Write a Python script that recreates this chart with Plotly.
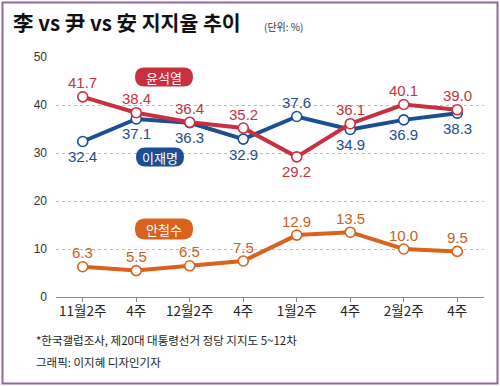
import plotly.graph_objects as go

weeks = ["11월2주", "4주", "12월2주", "4주", "1월2주", "4주", "2월2주", "4주"]
yoon = [41.7, 38.4, 36.4, 35.2, 29.2, 36.1, 40.1, 39.0]
lee = [32.4, 37.1, 36.3, 32.9, 37.6, 34.9, 36.9, 38.3]
ahn = [6.3, 5.5, 6.5, 7.5, 12.9, 13.5, 10.0, 9.5]
yoon_pos = ["above", "above", "above", "above", "below", "above", "above", "above"]
lee_pos = ["below", "below", "below", "below", "above", "below", "below", "below"]
ahn_pos = ["above"] * 8
y_ticks = [0, 10, 20, 30, 40, 50]

RED = "#c9303f"
BLUE = "#1b4e95"
ORANGE = "#d9621c"

W, H = 500, 386
L, R, T, B = 56, 16, 57, 89
PW, PH = W - L - R, H - T - B

def px(xp):
    return (xp - L) / PW

def py(yp):
    return (H - B - yp) / PH

NUM_FONT = "Liberation Sans, Arial"
KR_FONT = "Noto Sans CJK KR, Noto Sans, sans-serif"

x = list(range(len(weeks)))
fig = go.Figure()

series = [
    (lee, lee_pos, BLUE, "#1e4d8c"),
    (yoon, yoon_pos, RED, "#c23440"),
    (ahn, ahn_pos, ORANGE, "#c8601f"),
]
annotations = []
for vals, pos, col, tcol in series:
    fig.add_trace(go.Scatter(
        x=x, y=vals, mode="lines+markers",
        line=dict(color=col, width=4),
        marker=dict(size=10, color="white", line=dict(color=col, width=1.6)),
        hoverinfo="skip", showlegend=False, cliponaxis=False,
    ))
    for xi, v, p in zip(x, vals, pos):
        annotations.append(dict(
            x=xi, y=v, xref="x", yref="y", text=f"{v:.1f}", showarrow=False,
            yshift=14 if p == "above" else -15,
            font=dict(family=NUM_FONT, size=15, color=tcol),
        ))

# Pills (series names)
shapes = []
def pill(cx, cy, w, h, color, text):
    r = h / 2
    x0, x1 = cx - w / 2, cx + w / 2
    y0, y1 = cy - h / 2, cy + h / 2
    P = lambda a, b: f"{px(a):.5f},{py(b):.5f}"
    path = (f"M {P(x0 + r, y0)} L {P(x1 - r, y0)} Q {P(x1, y0)} {P(x1, cy)} "
            f"Q {P(x1, y1)} {P(x1 - r, y1)} L {P(x0 + r, y1)} Q {P(x0, y1)} {P(x0, cy)} "
            f"Q {P(x0, y0)} {P(x0 + r, y0)} Z")
    shapes.append(dict(type="path", path=path, xref="paper", yref="paper",
                       fillcolor=color, line=dict(width=0), layer="above"))
    annotations.append(dict(x=px(cx), y=py(cy), xref="paper", yref="paper", text=text,
                            showarrow=False, font=dict(family=KR_FONT, size=13, color="white"),
                            xanchor="center", yanchor="middle"))

pill(164, 77, 58, 19, RED, "윤석열")
pill(160, 157, 48, 19, BLUE, "이재명")
pill(164, 229, 58, 21, ORANGE, "안철수")

# Title & notes
annotations += [
    dict(x=px(11), y=py(22), xref="paper", yref="paper", text="<b>李 vs 尹 vs 安 지지율 추이</b>",
         showarrow=False, xanchor="left", yanchor="middle",
         font=dict(family=KR_FONT, size=20.5, color="#111")),
    dict(x=px(262), y=py(26), xref="paper", yref="paper", text="(단위: %)",
         showarrow=False, xanchor="left", yanchor="middle",
         font=dict(family=KR_FONT, size=10, color="#333")),
    dict(x=px(34), y=py(340), xref="paper", yref="paper",
         text="*한국갤럽조사, 제20대 대통령선거 정당 지지도 5~12차",
         showarrow=False, xanchor="left", yanchor="middle",
         font=dict(family=KR_FONT, size=11.5, color="#222")),
    dict(x=px(34), y=py(362), xref="paper", yref="paper",
         text="그래픽: 이지혜 디자인기자",
         showarrow=False, xanchor="left", yanchor="middle",
         font=dict(family=KR_FONT, size=11.5, color="#222")),
]

# Border
shapes.append(dict(type="rect", xref="paper", yref="paper",
                   x0=px(2.5), x1=px(497.5), y0=py(383.5), y1=py(2.5),
                   line=dict(color="#94649f", width=2), layer="above"))

fig.update_layout(
    width=W, height=H, margin=dict(l=L, r=R, t=T, b=B),
    paper_bgcolor="white", plot_bgcolor="white",
    shapes=shapes, annotations=annotations,
    xaxis=dict(range=[-0.5, 7.5], tickmode="array", tickvals=x, ticktext=weeks,
               showgrid=False, zeroline=False, showline=True, linecolor="#888", linewidth=1,
               ticks="outside", ticklen=4, tickcolor="#888", ticklabelstandoff=-2,
               tickfont=dict(family=KR_FONT, size=13.5, color="#222"), fixedrange=True),
    yaxis=dict(range=[0, 50], tickmode="array", tickvals=y_ticks,
               showgrid=True, gridcolor="#bbbbbb", griddash="dot", gridwidth=1,
               zeroline=False, showline=False, ticks="", ticklabelstandoff=8,
               tickfont=dict(family="Liberation Sans, Arial", size=12, color="#333"),
               fixedrange=True),
)

fig.write_html("out.html", config={"displayModeBar": False},
               post_script="document.body.style.margin='0';")
